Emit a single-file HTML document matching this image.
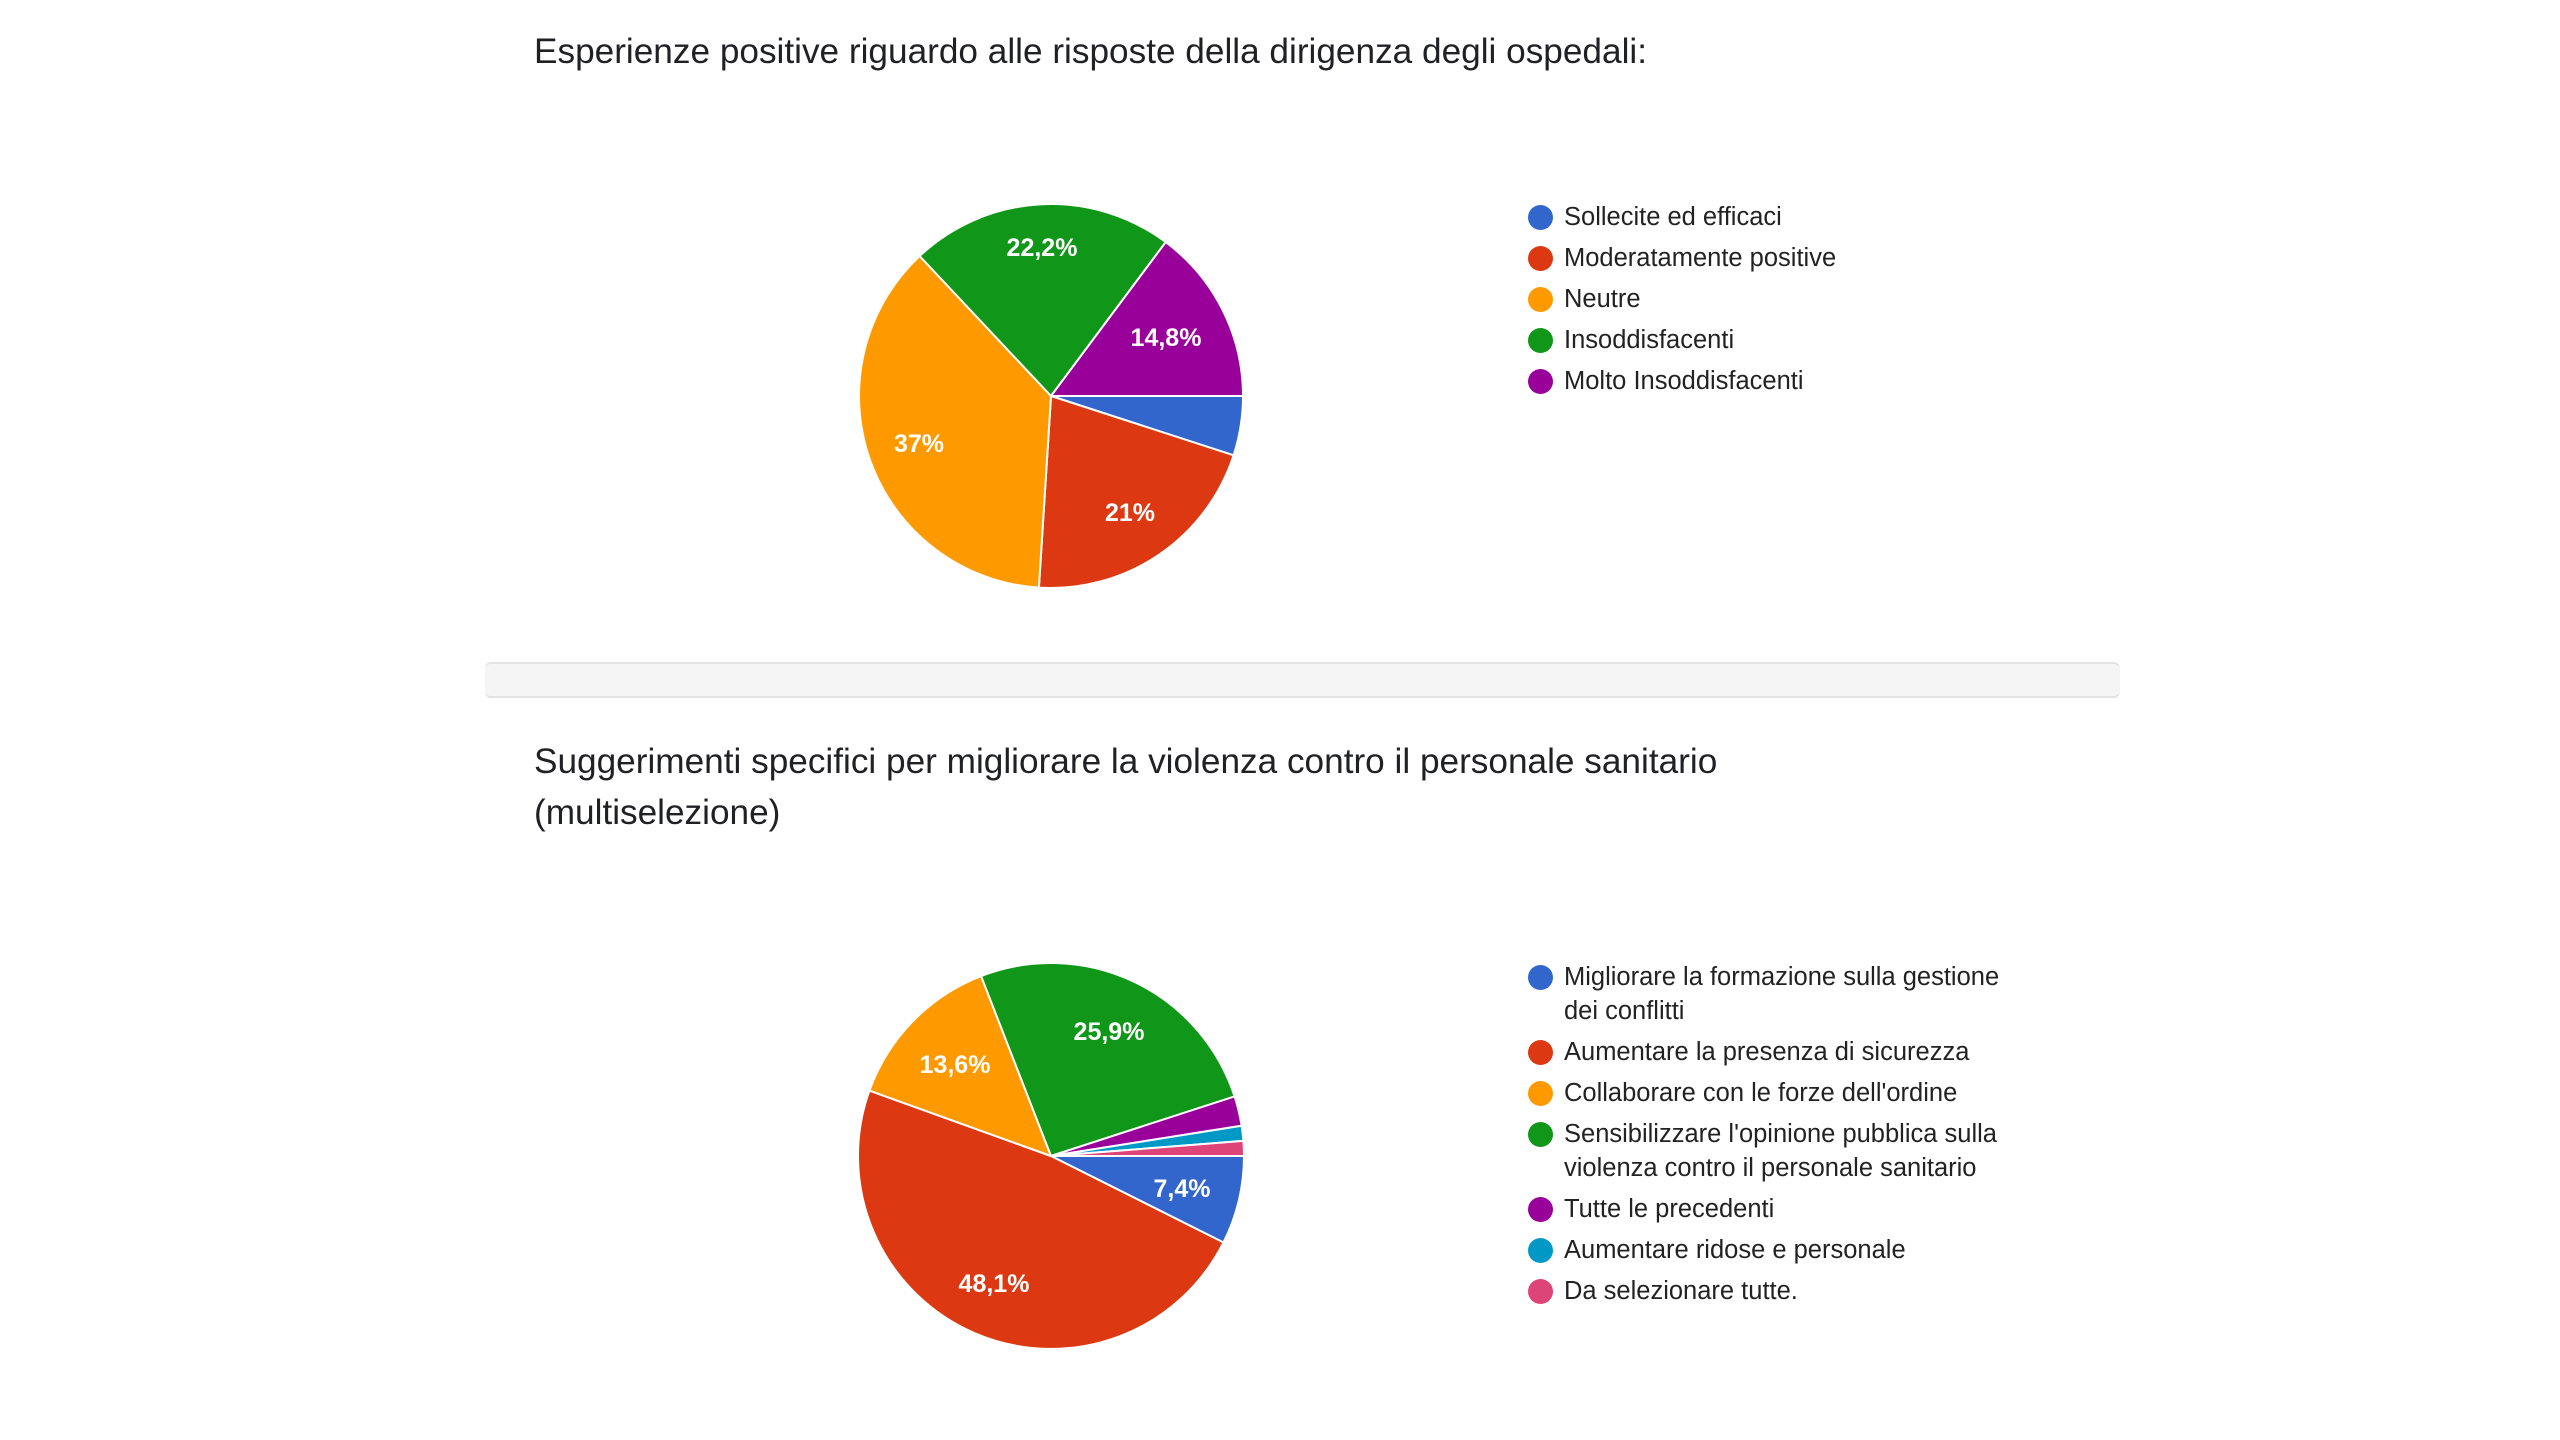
<!DOCTYPE html>
<html><head><meta charset="utf-8"><style>
html,body{margin:0;padding:0;background:#fff;}
body{width:2560px;height:1440px;position:relative;overflow:hidden;font-family:"Liberation Sans",Arial,sans-serif;}
.t{position:absolute;left:534px;font-size:35.2px;color:#202124;white-space:nowrap;}
.band{position:absolute;left:485px;width:1635px;top:662px;height:32px;background:#f5f5f5;border-top:2px solid #e3e3e3;border-bottom:2px solid #e3e3e3;border-radius:6px;}
.lg{position:absolute;left:1528px;font-size:25.5px;color:#222;line-height:34px;white-space:nowrap;}
.lg div{position:relative;padding-left:36px;margin-bottom:7px;}
.lg div:before{content:"";position:absolute;left:0;top:5px;width:25px;height:25px;border-radius:50%;background:var(--c);}
</style></head><body>
<div class="t" style="top:32px">Esperienze positive riguardo alle risposte della dirigenza degli ospedali:</div>
<div class="band"></div>
<div class="t" style="top:736px;line-height:51px">Suggerimenti specifici per migliorare la violenza contro il personale sanitario<br>(multiselezione)</div>

<svg width="2560" height="1440" style="position:absolute;left:0;top:0">
<g stroke="#fff" stroke-width="2" stroke-linejoin="round">
<path d="M1051 396 L1243 396 A192 192 0 0 1 1233.6 455.3Z" fill="#3366cc"/>
<path d="M1051 396 L1233.6 455.3 A192 192 0 0 1 1038.9 587.6Z" fill="#dc3912"/>
<path d="M1051 396 L1038.9 587.6 A192 192 0 0 1 919.6 256Z" fill="#ff9900"/>
<path d="M1051 396 L919.6 256 A192 192 0 0 1 1165.7 242.1Z" fill="#109618"/>
<path d="M1051 396 L1165.7 242.1 A192 192 0 0 1 1243 396Z" fill="#990099"/>

<path d="M1051 1156 L1244 1156 A193 193 0 0 1 1223.5 1242.5Z" fill="#3366cc"/>
<path d="M1051 1156 L1223.5 1242.5 A193 193 0 0 1 869.4 1090.6Z" fill="#dc3912"/>
<path d="M1051 1156 L869.4 1090.6 A193 193 0 0 1 981.1 976.1Z" fill="#ff9900"/>
<path d="M1051 1156 L981.1 976.1 A193 193 0 0 1 1234.6 1096.4Z" fill="#109618"/>
<path d="M1051 1156 L1234.6 1096.4 A193 193 0 0 1 1241.6 1125.8Z" fill="#990099"/>
<path d="M1051 1156 L1241.6 1125.8 A193 193 0 0 1 1243.4 1140.9Z" fill="#0099c6"/>
<path d="M1051 1156 L1243.4 1140.9 A193 193 0 0 1 1244 1156Z" fill="#dd4477"/>
</g>
<g fill="#fff" font-family="Liberation Sans, Arial, sans-serif" font-size="25" font-weight="600" text-anchor="middle" dominant-baseline="central">
<text x="1042" y="248">22,2%</text>
<text x="1166" y="338">14,8%</text>
<text x="919" y="444">37%</text>
<text x="1130" y="513">21%</text>
<text x="1109" y="1032">25,9%</text>
<text x="955" y="1065">13,6%</text>
<text x="1182" y="1189">7,4%</text>
<text x="994" y="1284">48,1%</text>
</g>
</svg>

<div class="lg" style="top:200px">
<div style="--c:#3366cc">Sollecite ed efficaci</div>
<div style="--c:#dc3912">Moderatamente positive</div>
<div style="--c:#ff9900">Neutre</div>
<div style="--c:#109618">Insoddisfacenti</div>
<div style="--c:#990099">Molto Insoddisfacenti</div>
</div>

<div class="lg" style="top:960px">
<div style="--c:#3366cc">Migliorare la formazione sulla gestione<br>dei conflitti</div>
<div style="--c:#dc3912">Aumentare la presenza di sicurezza</div>
<div style="--c:#ff9900">Collaborare con le forze dell'ordine</div>
<div style="--c:#109618">Sensibilizzare l'opinione pubblica sulla<br>violenza contro il personale sanitario</div>
<div style="--c:#990099">Tutte le precedenti</div>
<div style="--c:#0099c6">Aumentare ridose e personale</div>
<div style="--c:#dd4477">Da selezionare tutte.</div>
</div>
</body></html>
